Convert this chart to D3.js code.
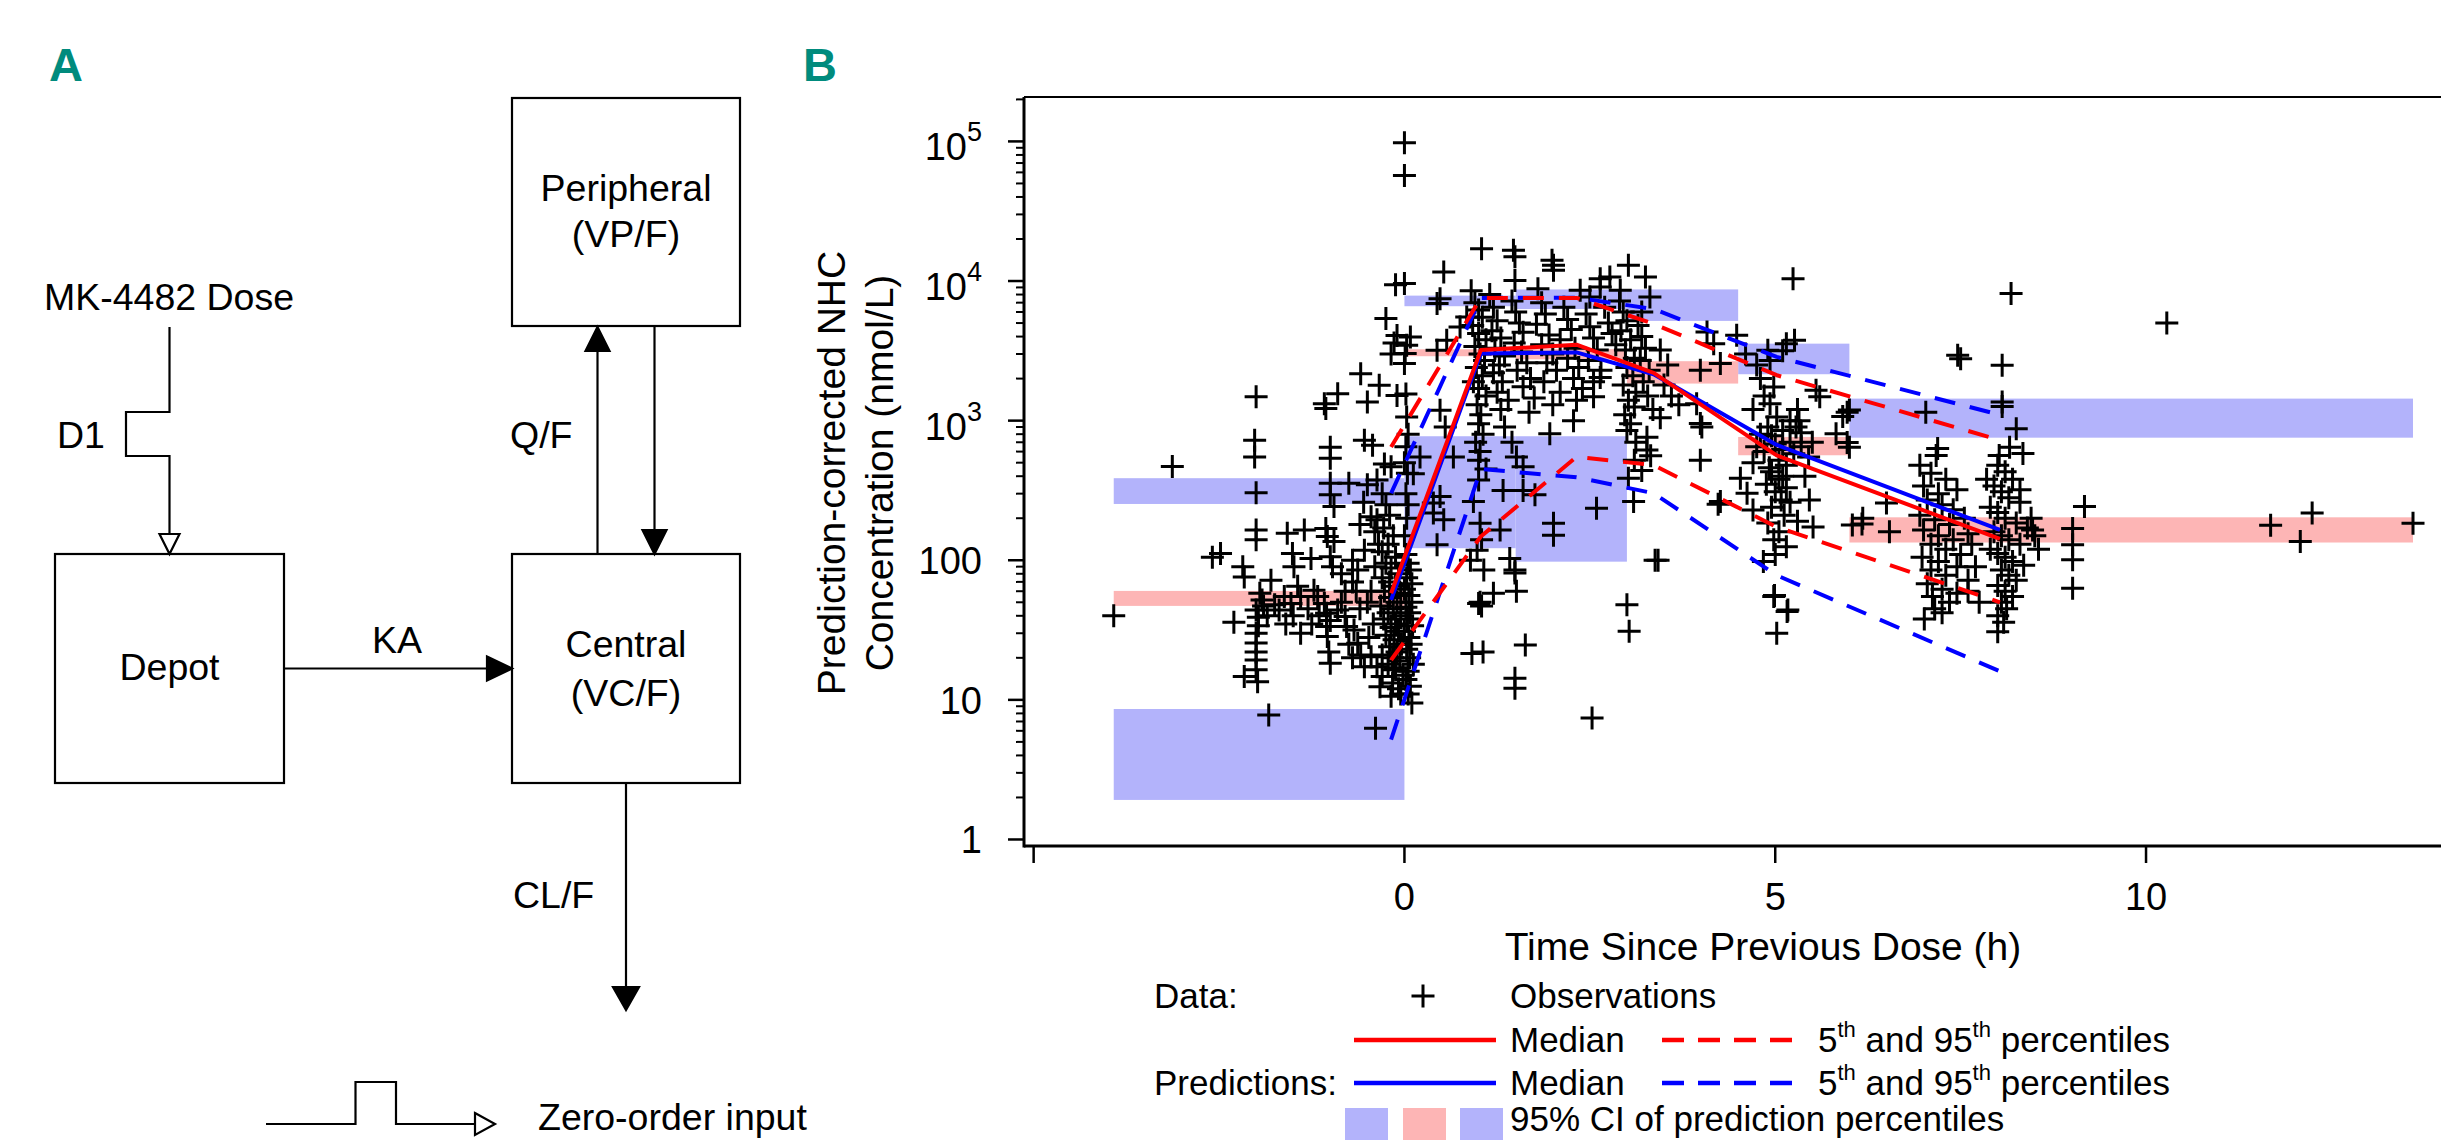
<!DOCTYPE html>
<html>
<head>
<meta charset="utf-8">
<script src="https://cdn.jsdelivr.net/npm/d3@7"></script>
<style>
  html, body { margin: 0; padding: 0; background: #fff; }
  svg { display: block; }
  text { font-family: "Liberation Sans", Arial, Helvetica, sans-serif; fill: #000; }
</style>
</head>
<body>
<svg id="chart" width="2441" height="1140"></svg>
<script>
// ---------------- DATA ----------------
// Bin edges of the VPC (h)
const binEdges = [-3.92, 0, 1.5, 3.0, 4.5, 6.0, 13.6];
// 95% CI of prediction percentiles per bin (nmol/L)
const ciP95Low  = [253, 6600, 6300, 5180, 2150, 755];
const ciP95High = [387, 7860, 8700, 8710, 3560, 1438];
const ciMedLow  = [47.1, 2893, 2750, 1843, 565, 134];
const ciMedHigh = [60.3, 3245, 3250, 2665, 764, 203];
const ciP05Low  = [1.92, 122, 97.7, null, null, null];
const ciP05High = [8.6, 773, 773, null, null, null];

// Percentile lines (per-bin median time)
const binTimes   = [-0.18, 1.03, 2.32, 3.36, 5.02, 8.03];
const obsMedian  = [58, 3200, 3500, 2200, 564, 142];
const obsP05     = [19.3, 148, 550, 480, 173, 50];
const obsP95     = [648, 7570, 7570, 4930, 2115, 724];
const predMedian = [52, 3020, 3080, 2150, 670, 165];
const predP05    = [5.2, 450, 393, 302, 78, 16];
const predP95    = [302, 7570, 7600, 6300, 2860, 1100];

// Observations [time (h), prediction-corrected conc (nmol/L)]
const obsPreDose = [
[-3.92,40],[-3.13,470],[-2.59,105],[-2.48,112],[-2.3,36],[-2.18,90],[-2.16,76],[-2.16,14.7],
[-2.0,1480],[-2.02,724],[-2.02,550],[-2.0,305],[-2.0,165],[-2.0,140],[-2.0,44],[-1.97,39],[-1.97,34],
[-2.0,30],[-2.0,25.5],[-2.0,22],[-2.0,19.3],[-2.0,16.4],[-1.98,13.5],[-1.95,58],[-1.92,52],[-1.9,47],
[-1.83,7.8],[-1.8,72],[-1.69,44],[-1.62,55],[-1.58,156],[-1.53,49],[-1.51,112],[-1.49,90],[-1.44,65],
[-1.4,55],[-1.35,165],[-1.26,103],[-1.22,61],[-1.17,55],[-1.08,1320],[-1.06,1220],[-0.9,1560],
[-1.0,646],[-1.0,537],[-1.06,169],[-1.04,148],[-0.95,136],[-1.0,356],[-1.0,294],[-0.95,243],[-1.0,106],
[-0.97,90],[-1.08,49],[-1.05,41.7],[-1.05,33.5],[-1.04,28.4],[-1.02,22],[-1.0,18.3],[-0.9,44],[-1.0,37],
[-0.75,356],[-0.7,100],[-0.63,85],[-0.59,2170],[-0.54,724],[-0.54,118],[-0.5,1360],[-0.5,347],
[-0.45,205],[-0.43,665],[-0.8,39.5],[-0.78,33.5],[-0.68,31.6],[-0.63,25.4],[-0.59,21],[-0.54,17.3],
[-0.45,20.4],[-0.37,376],[-0.37,195],[-0.37,17.3],[-0.34,1790],[-0.3,14.7],[-0.33,12.4],[-0.39,6.25],
[-0.27,490],[-0.25,5380],[-0.18,467],[-0.18,3000],[-0.14,3600],[-0.12,9420],[-0.1,4080],[-0.1,1515],
[-0.15,16.4],[-0.16,13.2],[-0.18,10.6],[-0.3,300],[-0.25,250],[-0.2,210],[-0.28,170],[-0.15,150],
[-0.22,130],[-0.3,115],[-0.12,105],[-0.25,95],[-0.18,88],[-0.08,80],[-0.3,75],[-0.2,70],[-0.12,65],
[-0.27,60],[-0.05,58],[-0.2,54],[-0.1,50],[-0.32,47],[-0.15,45],[-0.22,42],[-0.05,40],[-0.28,38],
[-0.12,35],[-0.18,33],[-0.08,31],[-0.25,29],[-0.14,27],[-0.04,25],[-0.2,24],[-0.1,22],[-0.3,21],
[-0.16,20],[-0.06,19],[-0.22,18],[-0.12,17],[-0.02,15],[-0.08,12],[-0.05,11],[-0.4,90],[-0.45,60],
[-0.5,50],[-0.6,45],[-0.42,35],[-0.48,28],[-0.65,60],[-0.7,70],[-0.85,80],[-0.8,60],[-0.35,130],
[-0.4,160],[-0.55,260],[-0.6,180],[-0.85,50],[-0.75,25],[-0.7,20],[-1.3,45],[-1.15,40],[-1.25,35],
[-1.4,30],[-1.5,40],[-1.6,35],[-1.75,48],[-1.85,40]
];
const obsAbsorption = [
[0.0,98000],[0.0,57000],[0.02,110],[0.05,95],[0.08,85],[0.03,75],[0.1,68],[0.0,62],[0.06,56],[0.1,50],
[0.02,46],[0.07,42],[0.04,38],[0.11,34],[0.0,31],[0.06,28],[0.09,25],[0.03,23],[0.07,20],[0.12,18],
[0.05,16],[0.02,14],[0.08,12.5],[0.05,11],[0.1,9.5],[0.0,2570],[0.02,1550],[0.03,1060],[0.05,800],
[0.02,650],[0.0,500],[0.04,420],[0.08,3980],[0.03,3470],[0.01,3020],[0.0,9600],[0.02,300],[0.05,250],
[0.03,200],[0.0,150],[0.12,417],[0.21,550],[0.39,257],[0.39,218],[0.44,129],[0.48,286],[0.53,195],
[0.48,1186],[0.55,900],[0.48,7480],[0.44,6890],[0.53,11600],[0.44,3190],[0.57,3770],[0.66,550],
[0.75,4680],[0.84,5530],[0.89,100],[0.93,263],[0.91,21.5],[1.0,376],[1.02,184],[1.04,140],[0.98,118],
[1.0,49],[1.04,47],[1.02,50],[1.06,22],[1.07,85],[1.2,58],[1.29,165],[1.33,316],[1.42,103],[1.49,85],
[1.49,81],[1.51,60],[1.49,14.3],[1.49,12.1],[1.6,316],[1.63,24.7],[1.76,295],[1.51,550],[1.6,468],
[2.01,184],[2.01,151],[2.53,7.4],[2.59,236],[3.09,263],[3.02,386],[3.38,100],[3.0,48],[3.03,31]
];
const obsPeak = [
[1.04,17060],[1.47,16600],[1.49,14900],[1.99,14070],[2.01,12980],[2.01,11930],[3.02,12970],[3.25,10700],
[2.64,10400],[2.77,10700],[1.49,10100],[2.37,8590],[2.5,7690],[2.64,9060],[2.91,8590],[3.31,7690],
[0.9,8500],[0.95,7000],[1.0,6200],[1.05,5500],[0.92,4800],[1.0,4200],[1.1,3800],[0.95,3400],[1.02,3000],
[1.08,2700],[0.97,2400],[1.05,2100],[0.93,1900],[1.0,1700],[1.1,1500],[0.98,1300],[1.03,1100],[1.0,950],
[1.06,800],[0.96,700],[1.02,600],[1.0,520],[1.1,450],[1.15,8000],[1.2,6500],[1.25,5200],[1.18,4400],
[1.3,3900],[1.22,3300],[1.35,2900],[1.28,2500],[1.2,2200],[1.32,1900],[1.25,1600],[1.4,1400],[1.3,1200],
[1.35,900],[1.45,700],[1.45,7200],[1.5,6000],[1.55,5000],[1.6,4300],[1.48,3600],[1.58,3100],[1.65,2600],
[1.52,2300],[1.7,2000],[1.6,1750],[1.75,1450],[1.68,1150],[1.8,8800],[1.85,7000],[1.9,5800],[1.78,4900],
[1.95,4100],[1.85,3500],[2.0,3000],[1.92,2600],[2.05,2300],[1.88,1900],[2.1,1600],[2.0,1300],[2.15,6500],
[2.2,5300],[2.25,4500],[2.1,3800],[2.3,3300],[2.2,2800],[2.35,2400],[2.28,2000],[2.4,1700],[2.32,1400],
[2.45,5800],[2.5,4700],[2.55,3900],[2.6,3200],[2.48,2700],[2.65,2300],[2.55,1900],[2.7,6500],[2.75,5000],
[2.8,4200],[2.85,3500],[2.9,7200],[2.95,6000],[3.0,5200],[2.92,4400],[3.05,3800],[2.98,3200],[3.1,2800],
[3.0,2400],[3.08,2100],[2.95,1800],[3.12,1600],[3.02,1400],[3.1,1250],[2.97,1100],[3.05,950],[3.0,850],
[3.12,700],[3.15,4800],[3.2,4000],[3.25,3300],[3.18,2700],[3.3,2300],[3.22,1900],[3.28,1500],[3.35,1200],
[3.2,6000],[2.55,1480],[2.64,2040],[2.28,1000],[1.96,807],[3.27,760],[3.27,615],[3.32,560],[3.1,520],
[3.2,440],[3.45,3200],[3.55,2500],[3.5,1800],[3.6,1500],[3.7,1300],[3.45,1050]
];
const obsDistribution = [
[3.42,100],[3.99,2300],[4.26,2570],[3.94,1320],[3.99,955],[3.99,520],[4.01,900],[4.23,252],[4.08,4320],
[4.48,4090],[4.17,3560],[4.26,263],[4.53,386],[4.62,302],[4.7,229],[4.84,98],[4.98,55],[5.02,30],
[4.99,56],[5.16,43],[4.6,3000],[4.75,2500],[4.9,3190],[4.93,2700],[4.98,1740],[4.93,1320],[5.02,1060],
[4.8,2000],[4.85,1500],[4.7,1200],[4.9,900],[4.95,780],[5.0,680],[4.85,600],[5.05,520],[4.92,460],
[5.1,400],[4.88,350],[5.0,310],[5.08,270],[4.95,240],[5.12,210],[4.9,185],[5.05,160],[4.98,140],
[5.15,125],[5.2,700],[5.25,580],[5.1,850],[5.2,1000],[5.3,1200],[5.28,900],[5.35,650],[5.15,330],
[5.2,260],[5.3,190],[5.0,110],[4.95,430],[5.05,380],[5.1,620],[5.15,480],[4.8,800],[4.75,650],[4.7,500],
[5.24,10400],[5.26,3770],[5.15,3560],[5.1,3170],[5.55,1650],[5.6,1480],[6.0,1190],[5.91,1070],
[5.82,807],[6.0,646],[5.32,1000],[5.35,820],[5.46,270],[5.51,173],[5.17,44],[6.04,179],[6.18,200],
[6.54,160],[5.97,1150],[5.97,697],[6.5,257],[6.17,182],[5.4,400],[5.45,550],[5.5,700]
];
const obsElimination = [
[7.03,1150],[7.19,631],[7.17,562],[6.95,480],[7.1,420],[7.3,380],[7.0,340],[7.2,300],[7.45,320],
[7.05,270],[7.25,250],[7.4,230],[6.95,210],[7.15,195],[7.35,180],[7.55,200],[7.0,165],[7.2,150],
[7.4,140],[7.6,155],[7.1,130],[7.3,120],[7.5,110],[6.98,105],[7.2,98],[7.45,90],[7.1,85],[7.3,78],
[7.6,72],[7.05,68],[7.25,62],[7.45,58],[7.12,55],[7.35,50],[7.75,50],[7.01,38],[7.15,45],[7.25,42],
[7.6,60],[7.7,90],[7.65,130],[7.46,2940],[7.5,2780],[8.06,2490],[8.06,1360],[8.06,1260],[8.25,875],
[8.02,562],[8.16,646],[8.34,582],[8.18,8130],[8.0,480],[8.1,430],[8.2,380],[7.95,340],[8.05,310],
[8.15,280],[8.3,260],[7.9,240],[8.0,220],[8.1,200],[8.25,185],[8.4,170],[7.95,160],[8.05,150],
[8.15,140],[8.3,130],[8.5,150],[7.9,120],[8.0,112],[8.1,105],[8.2,98],[8.35,92],[8.05,85],[8.15,78],
[8.25,72],[8.0,66],[8.1,60],[8.2,55],[8.05,50],[8.12,45],[8.0,40],[8.08,36],[8.0,30.8],[8.47,165],
[8.55,120],[8.45,200],[7.85,380],[8.3,320]
];
const obsLate = [
[9.01,169],[9.01,129],[9.01,101],[9.01,63],[9.17,243],[10.28,5000],[11.68,178],[12.08,136],[12.24,218],[13.6,184]
];

const yTickValues = [1, 10, 100, 1000, 10000, 100000];
const yTickLabels = [["1",""],["10",""],["100",""],["10","3"],["10","4"],["10","5"]];
const xTickValues = [-5, 0, 5, 10];
const xTickLabels = ["", "0", "5", "10"];

// ---------------- DRAW ----------------
const svg = d3.select("#chart");
const FONT_B = 38, FONT_A = 37.5, FONT_L = 35;

// Panel labels
svg.append("text").attr("x", 49).attr("y", 81).text("A")
  .attr("font-size", 47).attr("font-weight", "bold").style("fill", "#008b7d");
svg.append("text").attr("x", 803).attr("y", 81).text("B")
  .attr("font-size", 47).attr("font-weight", "bold").style("fill", "#008b7d");

// ---------- Panel A: model diagram ----------
const A = svg.append("g").attr("stroke", "#000").attr("stroke-width", 2.2).attr("fill", "none");
const boxes = [
  {x: 512, y: 98, w: 228, h: 228, l1: "Peripheral", l2: "(VP/F)", b1: 201, b2: 247},
  {x: 55, y: 554, w: 229, h: 229, l1: "Depot", l2: null, b1: 680},
  {x: 512, y: 554, w: 228, h: 229, l1: "Central", l2: "(VC/F)", b1: 657, b2: 706}
];
boxes.forEach(b => {
  A.append("rect").attr("x", b.x).attr("y", b.y).attr("width", b.w).attr("height", b.h);
  const cx = b.x + b.w / 2;
  svg.append("text").attr("x", cx).attr("y", b.b1).attr("text-anchor", "middle").attr("font-size", FONT_A).text(b.l1);
  if (b.l2) svg.append("text").attr("x", cx).attr("y", b.b2).attr("text-anchor", "middle").attr("font-size", FONT_A).text(b.l2);
});
// dose line with zero-order step
A.append("path").attr("d", "M169.5,327 V412 H126 V456 H169.5 V534");
A.append("path").attr("d", "M159.5,534 L179.5,534 L169.5,554 Z").attr("fill", "#fff");
// Q/F up arrow
A.append("line").attr("x1", 597.5).attr("y1", 554).attr("x2", 597.5).attr("y2", 340);
A.append("path").attr("d", "M597.5,327 L609.5,351 L585.5,351 Z").attr("fill", "#000");
// return down arrow
A.append("line").attr("x1", 654.5).attr("y1", 326).attr("x2", 654.5).attr("y2", 540);
A.append("path").attr("d", "M654.5,554 L666.5,530 L642.5,530 Z").attr("fill", "#000");
// KA arrow
A.append("line").attr("x1", 284).attr("y1", 668.5).attr("x2", 498).attr("y2", 668.5);
A.append("path").attr("d", "M512,668.5 L487,656.5 L487,680.5 Z").attr("fill", "#000");
// CL/F arrow
A.append("line").attr("x1", 626).attr("y1", 783).attr("x2", 626).attr("y2", 995);
A.append("path").attr("d", "M626,1010 L613,987 L639,987 Z").attr("fill", "#000");
// zero-order input legend
A.append("path").attr("d", "M266,1124 H355.5 V1082 H396 V1124 H475");
A.append("path").attr("d", "M475,1113 L495,1124 L475,1135 Z").attr("fill", "#fff");

const aText = [
  {t: "MK-4482 Dose", x: 169, y: 310, a: "middle"},
  {t: "D1", x: 57, y: 448, a: "start"},
  {t: "Q/F", x: 510, y: 448, a: "start"},
  {t: "KA", x: 397, y: 653, a: "middle"},
  {t: "CL/F", x: 513, y: 908, a: "start"},
  {t: "Zero-order input", x: 538, y: 1130, a: "start"}
];
aText.forEach(d => svg.append("text").attr("x", d.x).attr("y", d.y)
  .attr("text-anchor", d.a).attr("font-size", FONT_A).text(d.t));

// ---------- Panel B: VPC ----------
const plotL = 1024, plotR = 2502, plotT = 97, plotB = 846;
const x = d3.scaleLinear().domain([-5.13, 14.8]).range([plotL, plotR]);
const y = d3.scaleLog().domain([0.898, 208000]).range([plotB, plotT]);

svg.append("defs").append("clipPath").attr("id", "plotclip")
  .append("rect").attr("x", plotL).attr("y", plotT).attr("width", plotR - plotL).attr("height", plotB - plotT);
const P = svg.append("g").attr("clip-path", "url(#plotclip)");

const BLUE_CI = "#b3b3fb", PINK_CI = "#fdb5b5";
function drawCI(lo, hi, color) {
  binEdges.slice(0, -1).forEach((e, i) => {
    if (lo[i] == null) return;
    P.append("rect").attr("x", x(e)).attr("width", x(binEdges[i + 1]) - x(e))
      .attr("y", y(hi[i])).attr("height", y(lo[i]) - y(hi[i])).attr("fill", color);
  });
}
drawCI(ciP95Low, ciP95High, BLUE_CI);
drawCI(ciP05Low, ciP05High, BLUE_CI);
drawCI(ciMedLow, ciMedHigh, PINK_CI);

const plusPath = "M-11.5,0H11.5M0,-11.5V11.5";
const allObs = [].concat(obsPreDose, obsAbsorption, obsPeak, obsDistribution, obsElimination, obsLate);
P.append("g").selectAll("path").data(allObs).join("path")
  .attr("d", plusPath).attr("transform", d => `translate(${x(d[0])},${y(d[1])})`)
  .attr("stroke", "#000").attr("stroke-width", 3).attr("fill", "none");

const line = d3.line().x(d => x(d[0])).y(d => y(d[1]));
function drawLine(vals, color, dashed) {
  P.append("path").datum(binTimes.map((t, i) => [t, vals[i]])).attr("d", line)
    .attr("fill", "none").attr("stroke", color).attr("stroke-width", 4)
    .attr("stroke-dasharray", dashed ? "21,15" : null).attr("stroke-linejoin", "round");
}
drawLine(predP05, "#0000ff", true);
drawLine(predP95, "#0000ff", true);
drawLine(obsP05, "#ff0000", true);
drawLine(obsP95, "#ff0000", true);
drawLine(predMedian, "#0000ff", false);
drawLine(obsMedian, "#ff0000", false);

// frame
svg.append("line").attr("x1", plotL).attr("x2", plotR).attr("y1", plotT).attr("y2", plotT).attr("stroke", "#000").attr("stroke-width", 2);
svg.append("line").attr("x1", plotL).attr("x2", plotR).attr("y1", plotB).attr("y2", plotB).attr("stroke", "#000").attr("stroke-width", 3);
svg.append("line").attr("x1", plotL).attr("x2", plotL).attr("y1", plotT).attr("y2", plotB + 1.5).attr("stroke", "#000").attr("stroke-width", 3);

// y axis ticks
const yAx = svg.append("g");
const minor = [];
for (let e = 0; e <= 5; e++) for (let k = 2; k <= 9; k++) {
  const v = k * Math.pow(10, e);
  if (v < 208000) minor.push(v);
}
minor.forEach(v => yAx.append("line").attr("x1", plotL - 8).attr("x2", plotL).attr("y1", y(v)).attr("y2", y(v)).attr("stroke", "#000").attr("stroke-width", 2));
yTickValues.forEach((v, i) => {
  yAx.append("line").attr("x1", plotL - 16).attr("x2", plotL).attr("y1", y(v)).attr("y2", y(v)).attr("stroke", "#000").attr("stroke-width", 2.5);
  const lab = yTickLabels[i];
  const t = yAx.append("text").attr("x", 982).attr("text-anchor", "end").attr("font-size", FONT_B);
  if (lab[1]) {
    t.attr("y", y(v) + 19);
    t.append("tspan").text(lab[0]);
    t.append("tspan").attr("font-size", 27).attr("dy", -19).text(lab[1]);
  } else {
    t.attr("y", y(v) + 14).text(lab[0]);
  }
});
// x axis ticks
xTickValues.forEach((v, i) => {
  svg.append("line").attr("x1", x(v)).attr("x2", x(v)).attr("y1", plotB).attr("y2", plotB + 17).attr("stroke", "#000").attr("stroke-width", 2.5);
  if (xTickLabels[i]) svg.append("text").attr("x", x(v)).attr("y", 910).attr("text-anchor", "middle").attr("font-size", FONT_B).text(xTickLabels[i]);
});
// axis titles
svg.append("text").attr("x", 1763).attr("y", 960).attr("text-anchor", "middle").attr("font-size", 39).text("Time Since Previous Dose (h)");
svg.append("text").attr("transform", "translate(845,473) rotate(-90)").attr("text-anchor", "middle").attr("font-size", 39).text("Prediction-corrected NHC");
svg.append("text").attr("transform", "translate(893,473) rotate(-90)").attr("text-anchor", "middle").attr("font-size", 39).text("Concentration (nmol/L)");

// ---------- Legend ----------
const L = svg.append("g");
function ltext(xp, yp, s) { return L.append("text").attr("x", xp).attr("y", yp).attr("font-size", FONT_L).text(s); }
function pctText(xp, yp) {
  const t = L.append("text").attr("x", xp).attr("y", yp).attr("font-size", FONT_L);
  t.append("tspan").text("5");
  t.append("tspan").attr("font-size", 22).attr("dy", -15).text("th");
  t.append("tspan").attr("dy", 15).text(" and 95");
  t.append("tspan").attr("font-size", 22).attr("dy", -15).text("th");
  t.append("tspan").attr("dy", 15).text(" percentiles");
}
ltext(1154, 1008, "Data:");
L.append("path").attr("d", plusPath).attr("transform", "translate(1423,996)").attr("stroke", "#000").attr("stroke-width", 3);
ltext(1510, 1008, "Observations");
L.append("line").attr("x1", 1354).attr("x2", 1496).attr("y1", 1040).attr("y2", 1040).attr("stroke", "#ff0000").attr("stroke-width", 4.5);
ltext(1510, 1052, "Median");
L.append("line").attr("x1", 1662).attr("x2", 1794).attr("y1", 1040).attr("y2", 1040).attr("stroke", "#ff0000").attr("stroke-width", 4.5).attr("stroke-dasharray", "22,14");
pctText(1818, 1052);
ltext(1154, 1095, "Predictions:");
L.append("line").attr("x1", 1354).attr("x2", 1496).attr("y1", 1083).attr("y2", 1083).attr("stroke", "#0000ff").attr("stroke-width", 4.5);
ltext(1510, 1095, "Median");
L.append("line").attr("x1", 1662).attr("x2", 1794).attr("y1", 1083).attr("y2", 1083).attr("stroke", "#0000ff").attr("stroke-width", 4.5).attr("stroke-dasharray", "22,14");
pctText(1818, 1095);
[[1345, BLUE_CI], [1403, PINK_CI], [1460, BLUE_CI]].forEach(d =>
  L.append("rect").attr("x", d[0]).attr("y", 1108).attr("width", 43).attr("height", 32).attr("fill", d[1]));
ltext(1510, 1131, "95% CI of prediction percentiles");
</script>
</body>
</html>
